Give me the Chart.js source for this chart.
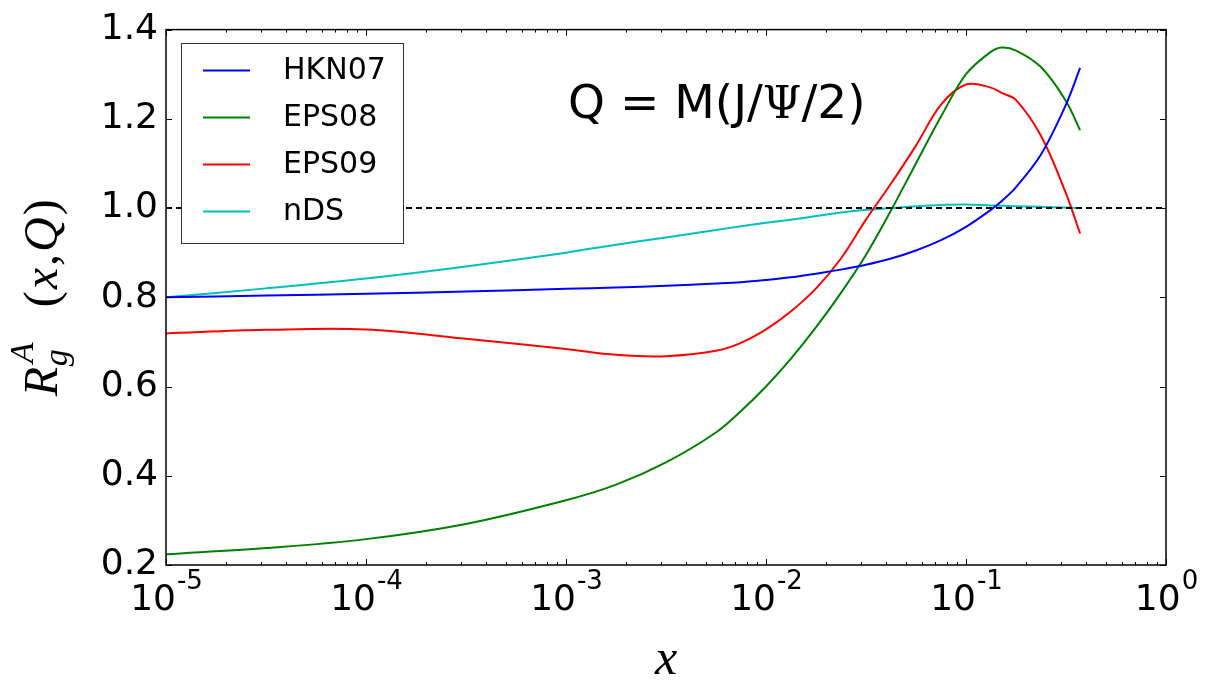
<!DOCTYPE html>
<html>
<head>
<meta charset="utf-8">
<script src="https://cdn.jsdelivr.net/npm/chart.js@4"></script>
<style>
html, body { margin: 0; padding: 0; background: #fff; }
#wrap { width: 1208px; height: 686px; }
</style>
</head>
<body>
<div id="wrap"><canvas id="chart" width="1208" height="686"></canvas></div>
<script>
// x grid (log spaced)
var xValues = [1e-5, 3.16e-5, 1e-4, 3.16e-4, 1e-3, 1.78e-3, 3.16e-3, 5.62e-3, 0.0075, 0.01, 0.0133, 0.0178, 0.0237, 0.0316, 0.0422, 0.0562, 0.075, 0.1, 0.133, 0.151, 0.178, 0.237, 0.316, 0.372];
var hkn07 = [0.800, 0.804, 0.808, 0.813, 0.819, 0.822, 0.826, 0.831, 0.834, 0.839, 0.845, 0.853, 0.862, 0.873, 0.887, 0.905, 0.928, 0.958, 0.996, 1.016, 1.047, 1.120, 1.232, 1.314];
var eps08 = [0.224, 0.238, 0.258, 0.292, 0.345, 0.380, 0.430, 0.497, 0.545, 0.600, 0.662, 0.733, 0.810, 0.895, 0.995, 1.100, 1.205, 1.300, 1.350, 1.360, 1.353, 1.316, 1.240, 1.174];
var eps09 = [0.719, 0.727, 0.728, 0.707, 0.684, 0.671, 0.668, 0.680, 0.698, 0.728, 0.768, 0.820, 0.887, 0.974, 1.055, 1.140, 1.232, 1.277, 1.270, 1.258, 1.242, 1.162, 1.033, 0.943];
var nds = [0.800, 0.820, 0.842, 0.869, 0.900, 0.918, 0.934, 0.951, 0.959, 0.967, 0.974, 0.982, 0.990, 0.996, 1.000, 1.004, 1.007, 1.008, 1.006, 1.005, 1.004, 1.003, 1.001, 1.000];
var seriesNames = ["HKN07", "EPS08", "EPS09", "nDS"];
var seriesColors = ["#0000ff", "#008000", "#ff0000", "#00bfbf"];
var refX = [1e-5, 1];
var refY = [1, 1];
var yTicks = [0.2, 0.4, 0.6, 0.8, 1.0, 1.2, 1.4];
var xDecades = [-5, -4, -3, -2, -1, 0];

function toPoints(xs, ys) {
    return xs.map(function (x, i) { return { x: x, y: ys[i] }; });
}

var allSeries = [hkn07, eps08, eps09, nds];
var datasets = allSeries.map(function (s, i) {
    return {
        label: seriesNames[i],
        data: toPoints(xValues, s),
        borderColor: seriesColors[i],
        borderWidth: 2,
        pointRadius: 0,
        fill: false,
        tension: 0.35,
        order: 2
    };
});
datasets.push({
    label: "ref",
    data: toPoints(refX, refY),
    borderColor: "#000",
    borderWidth: 2,
    borderDash: [6, 4],
    pointRadius: 0,
    fill: false,
    order: 1
});

//---------------drawing helpers
var decorations = {
    id: 'decorations',
    afterDraw: function (chart) {
        var ctx = chart.ctx, a = chart.chartArea;
        var xs = chart.scales.x, ys = chart.scales.y;
        ctx.save();

        // ticks pointing inward
        ctx.strokeStyle = "#000";
        ctx.lineWidth = 1;
        ctx.beginPath();
        yTicks.forEach(function (v) {
            var py = Math.round(ys.getPixelForValue(v)) + 0.5;
            ctx.moveTo(a.left, py); ctx.lineTo(a.left + 6, py);
            ctx.moveTo(a.right, py); ctx.lineTo(a.right - 6, py);
        });
        xDecades.forEach(function (e) {
            var px = Math.round(xs.getPixelForValue(Math.pow(10, e))) + 0.5;
            ctx.moveTo(px, a.bottom); ctx.lineTo(px, a.bottom - 6);
            ctx.moveTo(px, a.top); ctx.lineTo(px, a.top + 6);
            if (e < 0) {
                for (var m = 2; m <= 9; m++) {
                    var qx = Math.round(xs.getPixelForValue(m * Math.pow(10, e))) + 0.5;
                    ctx.moveTo(qx, a.bottom); ctx.lineTo(qx, a.bottom - 3);
                    ctx.moveTo(qx, a.top); ctx.lineTo(qx, a.top + 3);
                }
            }
        });
        ctx.stroke();

        // frame
        ctx.lineWidth = 1.5;
        ctx.strokeRect(a.left, a.top, a.right - a.left, a.bottom - a.top);

        // x tick labels 10^n
        ctx.fillStyle = "#000";
        ctx.textBaseline = "alphabetic";
        ctx.textAlign = "left";
        xDecades.forEach(function (e) {
            var px = xs.getPixelForValue(Math.pow(10, e));
            ctx.font = "36px 'DejaVu Sans'";
            var w1 = ctx.measureText("10").width;
            var sup = e === 0 ? "0" : "-" + (-e);
            ctx.font = "26px 'DejaVu Sans'";
            var w2 = ctx.measureText(sup).width;
            var x0 = px - (w1 + w2) / 2;
            ctx.font = "36px 'DejaVu Sans'";
            ctx.fillText("10", x0, 610);
            ctx.font = "26px 'DejaVu Sans'";
            ctx.fillText(sup, x0 + w1 + 1, 589);
        });

        // legend
        ctx.fillStyle = "#fff";
        ctx.fillRect(181.5, 43.5, 222, 200);
        ctx.strokeStyle = "#333";
        ctx.lineWidth = 1;
        ctx.strokeRect(181.5, 43.5, 222, 200);
        ctx.font = "30px 'DejaVu Sans'";
        ctx.textBaseline = "middle";
        seriesNames.forEach(function (n, i) {
            var ly = 70.5 + i * 47;
            ctx.strokeStyle = seriesColors[i];
            ctx.lineWidth = 2;
            ctx.beginPath();
            ctx.moveTo(203, ly); ctx.lineTo(250, ly);
            ctx.stroke();
            ctx.fillStyle = "#000";
            ctx.fillText(n, 283, ly + 1);
        });

        // annotation Q = M(J/Psi/2)
        ctx.textBaseline = "alphabetic";
        var tx = 568;
        var parts = [["Q = M(J/", "47px 'DejaVu Sans'"], ["\u03A8", "44px 'DejaVu Serif'"], ["/2)", "47px 'DejaVu Sans'"]];
        parts.forEach(function (p) {
            ctx.font = p[1];
            ctx.fillText(p[0], tx, 118);
            tx += ctx.measureText(p[0]).width;
        });

        // x axis title
        ctx.font = "italic 50px 'Liberation Serif'";
        ctx.textAlign = "center";
        ctx.fillText("x", (a.left + a.right) / 2, 674);

        // y axis title R_g^A (x,Q)
        ctx.translate(57, (a.top + a.bottom) / 2);
        ctx.rotate(-Math.PI / 2);
        ctx.textAlign = "left";
        ctx.font = "italic 48px 'Liberation Serif'";
        ctx.fillText("R", -99, 0);
        ctx.font = "italic 34px 'Liberation Serif'";
        ctx.fillText("g", -69, 10);
        ctx.fillText("A", -66, -24);
        var u = -10;
        var rest = [["(", "48px 'Liberation Serif'"], ["x", "italic 48px 'Liberation Serif'"], [",", "48px 'Liberation Serif'"], ["Q", "italic 48px 'Liberation Serif'"], [")", "48px 'Liberation Serif'"]];
        rest.forEach(function (p) {
            ctx.font = p[1];
            ctx.fillText(p[0], u, 0);
            u += ctx.measureText(p[0]).width + 2;
        });

        ctx.restore();
    }
};

var ctxChart = document.getElementById('chart');
var myChart = new Chart(ctxChart, {
    type: 'line',
    data: { datasets: datasets },
    options: {
        responsive: false,
        animation: false,
        layout: { padding: { top: 28, right: 42, left: 0, bottom: 0 } },
        plugins: {
            legend: { display: false },
            tooltip: { enabled: false }
        },
        scales: {
            x: {
                type: 'logarithmic',
                min: 1e-5,
                max: 1,
                grid: { display: false, drawTicks: false },
                border: { display: false },
                ticks: { display: false },
                afterFit: function (s) { s.height = 121; }
            },
            y: {
                type: 'linear',
                min: 0.2,
                max: 1.4,
                grid: { display: false, drawTicks: false },
                border: { display: false },
                ticks: {
                    stepSize: 0.2,
                    padding: 8,
                    color: "#000",
                    font: { family: "DejaVu Sans", size: 36 },
                    callback: function (v) { return Number(v).toFixed(1); }
                },
                afterFit: function (s) { s.width = 166; }
            }
        }
    },
    plugins: [decorations]
});
</script>
</body>
</html>
